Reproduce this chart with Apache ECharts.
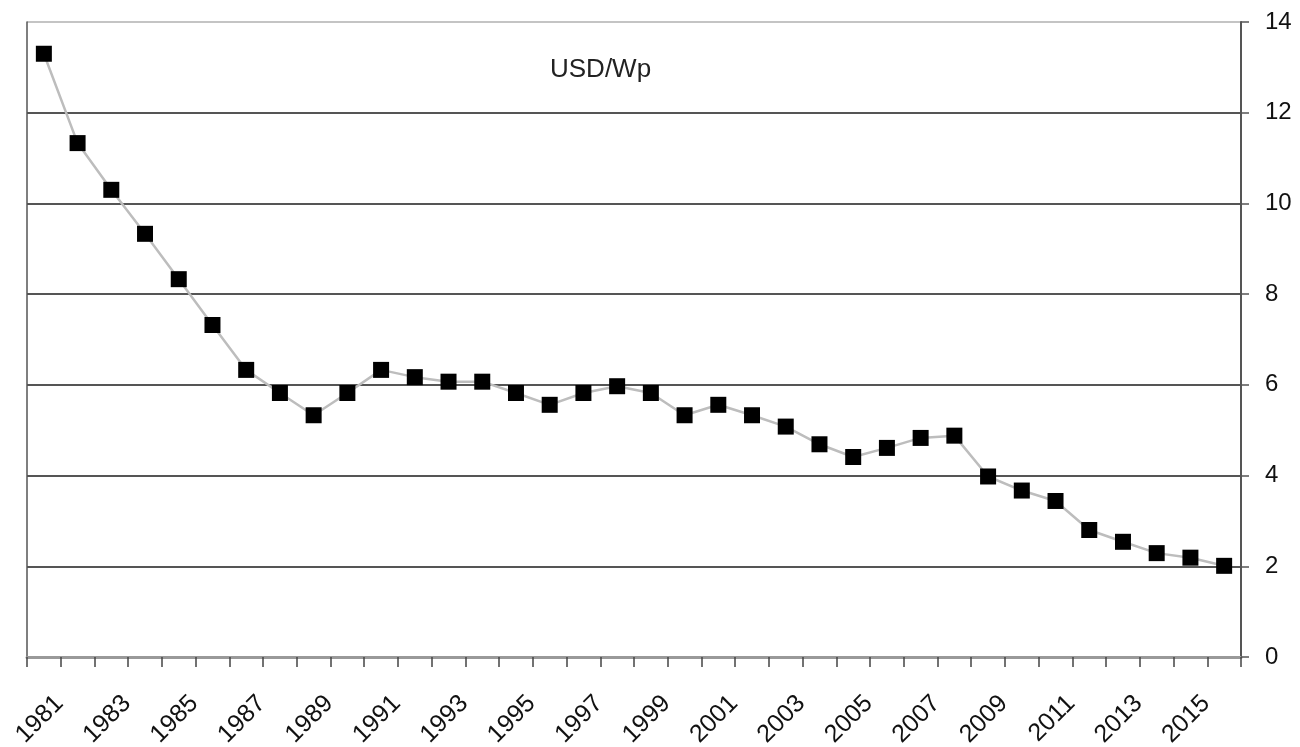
<!DOCTYPE html>
<html><head><meta charset="utf-8">
<script src="https://cdn.jsdelivr.net/npm/echarts@6/dist/echarts.min.js"></script>
<style>html,body{margin:0;padding:0;background:#fff}#c{width:1300px;height:747px}</style>
</head><body><div id="c"></div>
<script>
const years = ['1981','1982','1983','1984','1985','1986','1987','1988','1989','1990','1991','1992','1993','1994','1995','1996','1997','1998','1999','2000','2001','2002','2003','2004','2005','2006','2007','2008','2009','2010','2011','2012','2013','2014','2015','2016'];
const priceUsdPerWp = [13.3,11.33,10.3,9.33,8.33,7.32,6.33,5.82,5.33,5.82,6.33,6.17,6.07,6.07,5.82,5.56,5.82,5.97,5.82,5.33,5.56,5.33,5.08,4.69,4.41,4.61,4.83,4.88,3.98,3.67,3.44,2.80,2.54,2.29,2.19,2.01];
const unitLabel = 'USD/Wp';
const yTicks = [0,2,4,6,8,10,12,14];

const chart = echarts.init(document.getElementById('c'), null, {renderer:'canvas'});
chart.setOption({
  animation:false,
  backgroundColor:'#fff',
  textStyle:{fontFamily:'Liberation Sans, Arial, sans-serif'},
  title:{text:unitLabel,left:545,top:52,textStyle:{fontSize:26,fontWeight:'normal',color:'#222',fontFamily:'Liberation Sans, Arial, sans-serif'}},
  grid:{left:27,right:59,top:22,bottom:90,containLabel:false,outerBoundsMode:'none'},
  xAxis:{
    type:'category',data:years,boundaryGap:true,
    axisLine:{show:true,lineStyle:{color:'#999',width:3}},
    axisTick:{show:true,interval:0,length:10,lineStyle:{color:'#444',width:1.5}},
    axisLabel:{interval:1,rotate:45,margin:27,fontSize:25,lineHeight:44,color:'#111',verticalAlign:'top'},
    splitLine:{show:false}
  },
  yAxis:[{
    type:'value',position:'right',min:yTicks[0],max:yTicks[yTicks.length-1],interval:2,
    axisLine:{show:true,lineStyle:{color:'#555',width:2}},
    axisTick:{show:true,length:8,lineStyle:{color:'#555',width:1.5}},
    axisLabel:{fontSize:24,color:'#111',margin:24},
    splitLine:{show:true,lineStyle:{color:['#999','#555','#555','#555','#555','#555','#555','#c4c4c4'],width:2}}
  },{
    type:'value',position:'left',min:0,max:14,interval:2,
    axisLine:{show:true,lineStyle:{color:'#555',width:1.5}},
    axisTick:{show:false},axisLabel:{show:false},splitLine:{show:false}
  }],
  series:[{
    type:'line',data:priceUsdPerWp,yAxisIndex:0,
    lineStyle:{color:'#bdbdbd',width:2.5},
    symbol:'rect',symbolSize:16,
    itemStyle:{color:'#000'},
    z:3
  }]
});
</script></body></html>
